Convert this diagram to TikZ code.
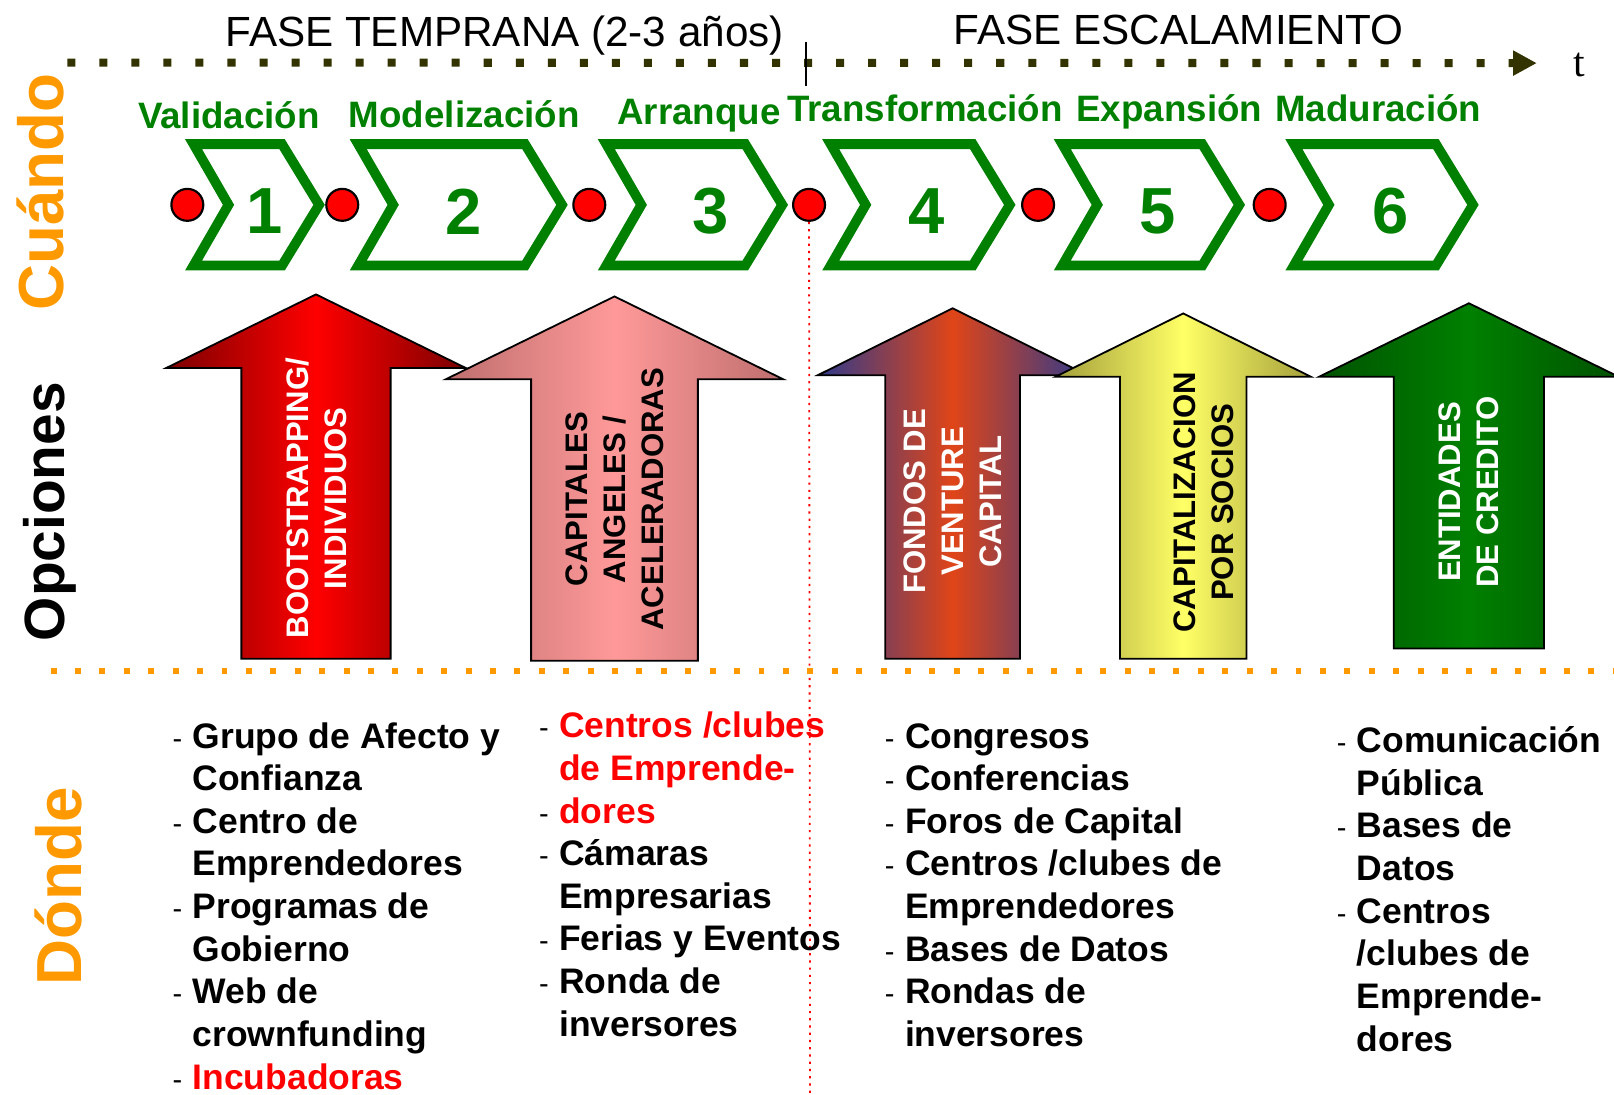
\documentclass[tikz,border=0pt]{standalone}
\usepackage{fontspec}
\setmainfont{Liberation Sans}
\newfontfamily\serifa{Liberation Serif}
\usetikzlibrary{arrows.meta, positioning, calc}

\definecolor{verde}{HTML}{008000}
\definecolor{naranja}{HTML}{FF9900}
\definecolor{oliva}{HTML}{333300}
\definecolor{rojoOsc}{HTML}{7A0000}
\definecolor{rosa}{HTML}{FF9999}
\definecolor{rosaOsc}{HTML}{BE6E6E}
\definecolor{azulOsc}{HTML}{2E3A8C}
\definecolor{naranjaRojo}{HTML}{E04518}
\definecolor{amarillo}{HTML}{FFFF66}
\definecolor{amarilloOsc}{HTML}{A39F3C}
\definecolor{verdeOsc}{HTML}{005200}

\newcommand{\itm}{\makebox[5.55pt][l]{\mdseries\fontsize{8}{9}\selectfont -}}
\newcommand{\sig}{\hspace*{5.55pt}}

\begin{document}
\begin{tikzpicture}[x=0.01cm, y=-0.01cm,
    fase/.style={font=\fontsize{11.66}{14}\selectfont, anchor=base, inner sep=0},
    etapa/.style={font=\bfseries\fontsize{10.15}{12}\selectfont, text=verde, anchor=base, inner sep=0},
    numero/.style={font=\bfseries\fontsize{18}{20}\selectfont, text=verde, inner sep=0},
    punto/.style={circle, draw=black, line width=0.6pt, fill=red, minimum size=0.31cm, inner sep=0},
    chevron/.style={draw=verde, line width=2.7pt, fill=white},
    flecha/.style={draw=black, line width=0.5pt},
    etiqflecha/.style={rotate=90, align=center, font=\bfseries\fontsize{8.6}{10.5}\selectfont, inner sep=0},
    lado/.style={rotate=90, anchor=base, inner sep=0, font=\bfseries\fontsize{17.6}{20}\selectfont},
    donde/.style={anchor=north west, align=left, inner sep=0, font=\bfseries\fontsize{9.8}{11.78}\selectfont}]

  \useasboundingbox (0,0) rectangle (1568,1063);

  % eje del tiempo
  \coordinate (ejeIni) at (65.4,60.8);
  \coordinate (ejeFin) at (1493,61.3);
  \draw[oliva, line width=0.078cm, dash pattern=on 0.078cm off 0.233cm, -{Triangle[length=0.23cm, width=0.23cm]}] (ejeIni) -- (ejeFin);
  \node[font=\serifa\fontsize{11.5}{13}\selectfont, anchor=base, inner sep=0] (tiempo) at (1534,74.5) {t};
  \coordinate (marcaA) at (783,40.5);
  \coordinate (marcaB) at (783,84);
  \draw[line width=0.45pt] (marcaA) -- (marcaB);

  \node[fase] (temprana) at (490.3,44.7) {FASE TEMPRANA (2-3 años)};
  \node[fase] (escala) at (1145,43.7) {FASE ESCALAMIENTO};

  % etapas
  \node[etapa] (et1) at (222.4,124.7) {Validación};
  \node[etapa] (et2) at (451,124) {Modelización};
  \node[etapa] (et3) at (679,120.8) {Arranque};
  \node[etapa] (et4) at (898.7,118.2) {Transformación};
  \node[etapa] (et5) at (1136,118.2) {Expansión};
  \node[etapa] (et6) at (1339,118) {Maduración};

  \foreach \l/\r/\n/\nx/\px in {188/274/1/257/182, 348/510/2/450/332.5, 589/724/3/690/572.5,
      807/945/4/900/786, 1032/1168/5/1125/1008.5, 1257/1395/6/1351/1233.5} {
    \draw[chevron] (\l,140) -- (\r,140) -- (\r+36,199) -- (\r,258) -- (\l,258) -- (\l+34,199) -- cycle;
    \node[numero] (num\n) at (\nx,205.5) {\n};
    \node[punto] (p\n) at (\px,199) {};
  }

  % guia vertical
  \coordinate (guiaFin) at (787,1063);
  \draw[red, line width=0.5pt, dash pattern=on 0.6pt off 1.4pt] (p4.south) -- (guiaFin);

  % opciones
  \foreach \cx/\ty/\hw/\sw/\by/\yb/\colb/\colm in {597/288/164/81/368.5/642/rosaOsc/rosa,
      307/286/145.5/72.5/357.5/640/rojoOsc/red,
      925.5/299.5/131/65.5/364.5/640/azulOsc/naranjaRojo,
      1149.5/304.5/124/61.5/366/640/amarilloOsc/amarillo,
      1427/294.6/145.5/73/366/630/verdeOsc/verde} {
    \draw[flecha, left color=\colb, right color=\colb, middle color=\colm]
      (\cx,\ty) -- (\cx+\hw,\by) -- (\cx+\sw,\by) -- (\cx+\sw,\yb) -- (\cx-\sw,\yb)
      -- (\cx-\sw,\by) -- (\cx-\hw,\by) -- cycle;
  }
  \node[etiqflecha, text=white] (opc1) at (307.5,484) {BOOTSTRAPPING/\\INDIVIDUOS};
  \node[etiqflecha] (opc2) at (597,485) {CAPITALES\\ANGELES /\\ACELERADORAS};
  \node[etiqflecha, text=white] (opc3) at (926,487) {FONDOS DE\\VENTURE\\CAPITAL};
  \node[etiqflecha] (opc4) at (1169.5,488) {CAPITALIZACION\\POR SOCIOS};
  \node[etiqflecha, text=white] (opc5) at (1427,478) {ENTIDADES\\DE CREDITO};

  % separador
  \coordinate (sepIni) at (49.2,651.7);
  \coordinate (sepFin) at (1568,651.7);
  \draw[naranja, line width=0.062cm, dash pattern=on 0.058cm off 0.179cm] (sepIni) -- (sepFin);

  % titulos laterales
  \node[lado, text=naranja] (cuando) at (61.5,186.5) {Cuándo};
  \node[lado, font=\bfseries\fontsize{15.7}{18}\selectfont] (opciones) at (63,497) {Opciones};
  \node[lado, text=naranja] (dondeT) at (79,861) {Dónde};

  % donde
  \node[donde] (dondeA) at (167,697) {\strut\itm Grupo de Afecto y\\
    \sig Confianza\\
    \itm Centro de\\
    \sig Emprendedores\\
    \itm Programas de\\
    \sig Gobierno\\
    \itm Web de\\
    \sig crownfunding\\
    \itm\textcolor{red}{Incubadoras}};
  \node[donde] (dondeB) at (523,687) {\strut\itm\textcolor{red}{Centros /clubes}\\
    \sig\textcolor{red}{de Emprende-}\\
    \itm\textcolor{red}{dores}\\
    \itm Cámaras\\
    \sig Empresarias\\
    \itm Ferias y Eventos\\
    \itm Ronda de\\
    \sig inversores};
  \node[donde] (dondeC) at (859,697) {\strut\itm Congresos\\
    \itm Conferencias\\
    \itm Foros de Capital\\
    \itm Centros /clubes de\\
    \sig Emprendedores\\
    \itm Bases de Datos\\
    \itm Rondas de\\
    \sig inversores};
  \node[donde] (dondeD) at (1298,701.5) {\strut\itm Comunicación\\
    \sig Pública\\
    \itm Bases de\\
    \sig Datos\\
    \itm Centros\\
    \sig /clubes de\\
    \sig Emprende-\\
    \sig dores};
\end{tikzpicture}
\end{document}
